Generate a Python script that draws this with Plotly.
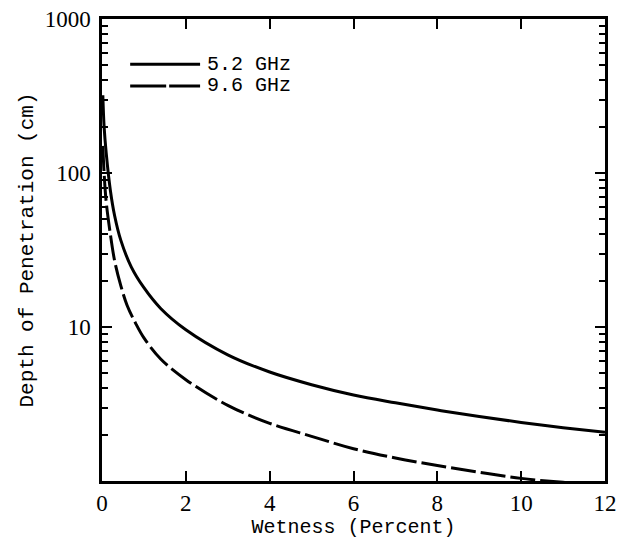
import plotly.graph_objects as go

# Data
wetness_52 = [0.02, 0.05, 0.1, 0.2, 0.3, 0.45, 0.7, 1.0, 1.4, 2.0, 3.0, 4.0, 5.0, 6.0, 7.0, 8.0, 9.0, 10.0, 11.0, 12.0]
depth_52 = [320, 200, 135, 77, 53, 36.5, 24.5, 18, 13.2, 9.6, 6.6, 5.1, 4.22, 3.62, 3.22, 2.89, 2.62, 2.4, 2.22, 2.07]

wetness_96 = [0.02, 0.05, 0.1, 0.2, 0.3, 0.45, 0.6, 0.8, 1.0, 1.4, 2.0, 3.0, 4.0, 5.0, 6.0, 7.0, 8.0, 9.0, 10.0, 11.0, 12.0]
depth_96 = [150, 100, 65, 40, 27, 18.5, 13.8, 10.6, 8.5, 6.2, 4.55, 3.1, 2.37, 1.95, 1.62, 1.41, 1.26, 1.14, 1.04, 0.98, 0.94]

series_names = ["5.2 GHz", "9.6 GHz"]
x_ticks = [0, 2, 4, 6, 8, 10, 12]
y_ticks = [10, 100, 1000]
y_minor = [m * 10 ** e for e in range(0, 3) for m in range(2, 10)]

mono = "Liberation Mono"
serif = "Liberation Serif"

fig = go.Figure()
fig.add_trace(go.Scatter(x=wetness_52, y=depth_52, mode="lines", name=series_names[0],
                         line=dict(color="black", width=3, shape="spline"), showlegend=False))
fig.add_trace(go.Scatter(x=wetness_96, y=depth_96, mode="lines", name=series_names[1],
                         line=dict(color="black", width=3, dash="25px,5px", shape="spline"), showlegend=False))

# Legend drawn as key lines + text in paper coordinates
leg_y = [0.902, 0.855]
leg_dash = ["solid", "36px,3px"]
for name, yy, dd in zip(series_names, leg_y, leg_dash):
    fig.add_shape(type="line", xref="paper", yref="paper", x0=0.056, x1=0.195, y0=yy, y1=yy,
                  line=dict(color="black", width=3, dash=dd))
    fig.add_annotation(xref="paper", yref="paper", x=0.205, y=yy, text=name, showarrow=False,
                       xanchor="left", yanchor="middle", font=dict(family=mono, size=20, color="black"))

axis_common = dict(showline=True, linecolor="black", linewidth=2.5, mirror="ticks", automargin=False,
                   ticklabeloverflow="allow",
                   ticks="inside", tickcolor="black", tickwidth=2, showgrid=False, zeroline=False)

fig.update_xaxes(range=[0, 12], tickvals=x_ticks, ticklen=10,
                 tickfont=dict(family=serif, size=23, color="black"),
                 title=dict(text="Wetness (Percent)", font=dict(family=mono, size=20, color="black"), standoff=4),
                 **axis_common)
fig.update_yaxes(type="log", range=[0, 3], tickvals=y_ticks, ticklen=10, ticklabelstandoff=4,
                 tickfont=dict(family=serif, size=23, color="black"),
                 minor=dict(tickvals=y_minor, ticks="inside", ticklen=6, tickcolor="black", tickwidth=1.5),
                 title=dict(text="Depth of Penetration (cm)", font=dict(family=mono, size=21, color="black"), standoff=6),
                 **axis_common)

# page body adds an 8px margin, so the figure is sized/offset to land where the reference is
fig.update_layout(width=617, height=534, margin=dict(l=94, r=20, t=11, b=61),
                  paper_bgcolor="white", plot_bgcolor="white")

fig.write_html("out.html")
